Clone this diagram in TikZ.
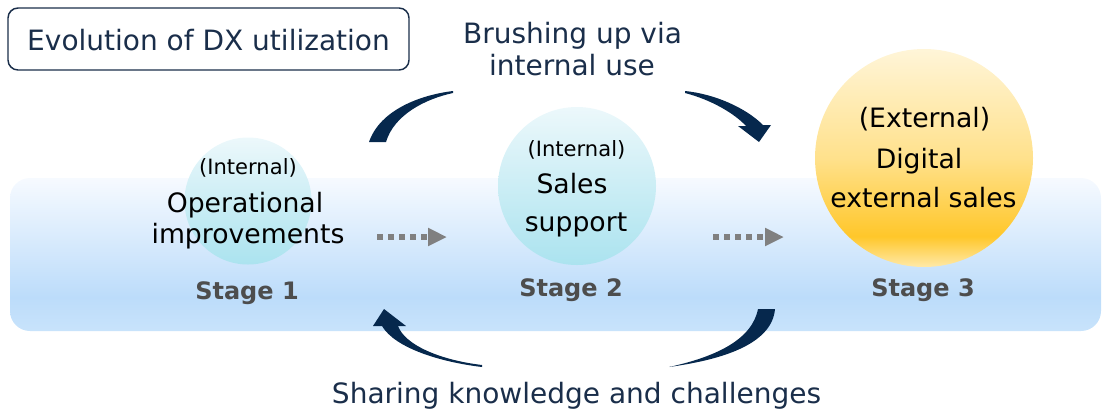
\documentclass[tikz,border=0pt]{standalone}
\usepackage{fontspec}
\setmainfont{DejaVu Sans}
\usetikzlibrary{arrows.meta}
\definecolor{arcnavy}{HTML}{06284D}
\definecolor{txtnavy}{HTML}{1A2E4A}
\definecolor{stagegray}{HTML}{4D4D4D}
\definecolor{dotgray}{HTML}{808080}
\definecolor{cyantop}{HTML}{ECF8FB}
\definecolor{cyanbot}{HTML}{ABE3EF}
\definecolor{gA}{HTML}{FFF5D8}
\definecolor{gB}{HTML}{FFE18C}
\definecolor{gC}{HTML}{FFC72A}
\definecolor{gD}{HTML}{FFE9A8}
\definecolor{bA}{HTML}{F6FAFF}
\definecolor{bB}{HTML}{BCDCFA}
\definecolor{bC}{HTML}{C8E3FB}
\pgfdeclareverticalshading{goldshade}{100bp}{color(0bp)=(gD); color(25bp)=(gD); color(32bp)=(gC); color(50bp)=(gB); color(75bp)=(gA); color(100bp)=(gA)}
\pgfdeclareverticalshading{bandshade}{100bp}{color(0bp)=(bC); color(25bp)=(bC); color(36bp)=(bB); color(75bp)=(bA); color(100bp)=(bA)}
\tikzset{
  bigtxt/.style={anchor=base, inner sep=0pt, font=\fontsize{21pt}{25pt}\selectfont, text=txtnavy},
  circtxt/.style={anchor=base, inner sep=0pt, font=\fontsize{20pt}{24pt}\selectfont, text=black},
  smalltxt/.style={anchor=base, inner sep=0pt, font=\fontsize{15.8pt}{19pt}\selectfont, text=black},
  stagetxt/.style={anchor=base, inner sep=0pt, font=\fontsize{18pt}{22pt}\selectfont\bfseries, text=stagegray},
  cyanball/.style={circle, inner sep=0pt, top color=cyantop, bottom color=cyanbot},
  goldball/.style={circle, inner sep=0pt, shading=goldshade},
  dotarrow/.style={draw=dotgray, line width=5pt, dash pattern=on 4.5pt off 3.75pt, -{Triangle[length=14.25pt, width=12.75pt]}},
  cyclearc/.style={fill=arcnavy},
}
\begin{document}
\begin{tikzpicture}[x=0.75pt, y=-0.75pt]
\useasboundingbox (0,0) rectangle (1102,411);
% band
\path[shading=bandshade, rounded corners=15pt] (10,178) rectangle (1101,331);
% title box
\node[draw=txtnavy, line width=1.1pt, rounded corners=7.5pt, minimum width=300.75pt, minimum height=46.5pt, inner sep=0pt] (titlebox) at (208.5,39) {};
\node[bigtxt] (title) at (208.5,50) {Evolution of DX utilization};
% circles
\node[cyanball, minimum size=95.25pt] (c1) at (248,201) {};
\node[cyanball, minimum size=118.5pt] (c2) at (577,186) {};
\node[goldball, minimum size=163.5pt] (c3) at (924,158) {};
% circle texts
\node[smalltxt] (c1a) at (248,174) {(Internal)};
\node[circtxt] (c1b) at (245,212) {Operational};
\node[circtxt] (c1c) at (248,243) {improvements};
\node[stagetxt] (s1) at (247,299) {Stage 1};
\node[smalltxt] (c2a) at (576.5,156) {(Internal)};
\node[circtxt] (c2b) at (572,193) {Sales};
\node[circtxt] (c2c) at (576,231) {support};
\node[stagetxt] (s2) at (571,296) {Stage 2};
\node[circtxt] (c3a) at (924.5,127) {(External)};
\node[circtxt] (c3b) at (919,168) {Digital};
\node[circtxt] (c3c) at (923.5,207) {external sales};
\node[stagetxt] (s3) at (923,296) {Stage 3};
% dotted arrows
\coordinate (d1s) at (377,237);
\coordinate (d1e) at (447,237);
\coordinate (d2s) at (713,237);
\coordinate (d2e) at (784,237);
\draw[dotarrow] (d1s) -- (d1e);
\draw[dotarrow] (d2s) -- (d2e);
% top arcs
\fill[cyclearc] (369,142) .. controls (380,110) and (420,95) .. (453,91)
  -- (453,93) .. controls (425,99) and (394,115) .. (386,142) -- cycle;
\fill[cyclearc] (685,91) .. controls (715,94) and (746,108) .. (763,125)
  -- (771,125) -- (759,142) -- (738,126) -- (746,126)
  .. controls (735,114) and (712,100) .. (685,93) -- cycle;
% bottom arcs
\fill[cyclearc] (775,309) .. controls (772,345) and (720,360) .. (669,367)
  .. controls (715,357) and (752,340) .. (758,309) -- cycle;
\fill[cyclearc] (482,367) .. controls (440,362) and (395,348) .. (382,326)
  -- (373,326) -- (384,309) -- (406,326) -- (398,326)
  .. controls (405,345) and (440,360) .. (482,365) -- cycle;
% labels
\node[bigtxt] (top1) at (572.5,43) {Brushing up via};
\node[bigtxt] (top2) at (572,75) {internal use};
\node[bigtxt] (bot) at (576.5,403) {Sharing knowledge and challenges};
\end{tikzpicture}
\end{document}
